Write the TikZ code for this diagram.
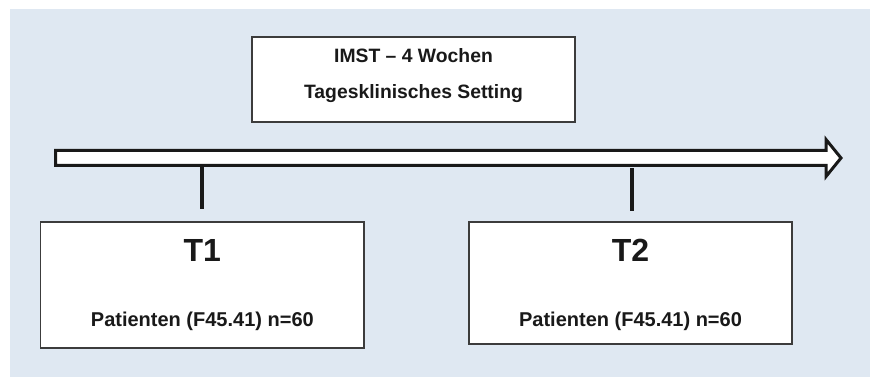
\documentclass[tikz,border=0pt]{standalone}
\usepackage{fontspec}
\setmainfont{Liberation Sans}
\usepackage{tikz}
\usetikzlibrary{positioning}
\definecolor{Fondo}{RGB}{223, 232, 242}
\definecolor{Linea}{RGB}{25, 25, 25}
\definecolor{Marco}{RGB}{60, 60, 60}

\tikzset{
  caja/.style={draw=Marco, line width=0.9pt, fill=white, inner sep=0pt},
  marca/.style={draw=Linea, line width=3.5pt},
  texto/.style={anchor=base, text=Linea, font=\bfseries, inner sep=0pt}
}

\begin{document}
\begin{tikzpicture}[x=0.75pt, y=-0.75pt]
	% Fondo
	\useasboundingbox (0,0) rectangle (870,377);
	\fill[Fondo] (10,9) rectangle (870,377);

	% Caja de arriba
	\node[caja, minimum width=242.25pt, minimum height=63.75pt] (imst) at (413.5,79.5) {};
	\node[texto, font=\bfseries\fontsize{14.5}{16}\selectfont] (imst1) at (413.5,62.7) {IMST -- 4 Wochen};
	\node[texto, font=\bfseries\fontsize{14.5}{16}\selectfont] (imst2) at (413.5,99) {Tagesklinisches Setting};

	% Flecha del tiempo
	\draw[draw=Linea, line width=2.25pt, fill=white, line join=miter]
		(55.5,150.5) -- (826,150.5) -- (826,139.5) -- (841,158)
		-- (826,176.5) -- (826,165.5) -- (55.5,165.5) -- cycle;

	% Cajas T1 y T2
	\node[caja, minimum width=242.5pt, minimum height=94.5pt] (t1) at (202.35,285) {};
	\node[caja, minimum width=242.25pt, minimum height=91.5pt] (t2) at (630.5,283) {};

	\node[texto, font=\bfseries\fontsize{24}{26}\selectfont] (t1nom) at (202.35,262) {T1};
	\node[texto, font=\bfseries\fontsize{15}{17}\selectfont] (t1pac) at (202.35,326) {Patienten (F45.41) n=60};
	\node[texto, font=\bfseries\fontsize{24}{26}\selectfont] (t2nom) at (630.5,262) {T2};
	\node[texto, font=\bfseries\fontsize{15}{17}\selectfont] (t2pac) at (630.5,326) {Patienten (F45.41) n=60};

	% Marcas
	\coordinate (m1) at (202,167);
	\coordinate (m2) at (632,168.5);
	\coordinate (e1) at ([yshift=9pt]t1.north);
	\coordinate (e2) at ([yshift=7.5pt]t2.north);
	\draw[marca] (m1) -- (m1 |- e1);
	\draw[marca] (m2) -- (m2 |- e2);
\end{tikzpicture}
\end{document}
